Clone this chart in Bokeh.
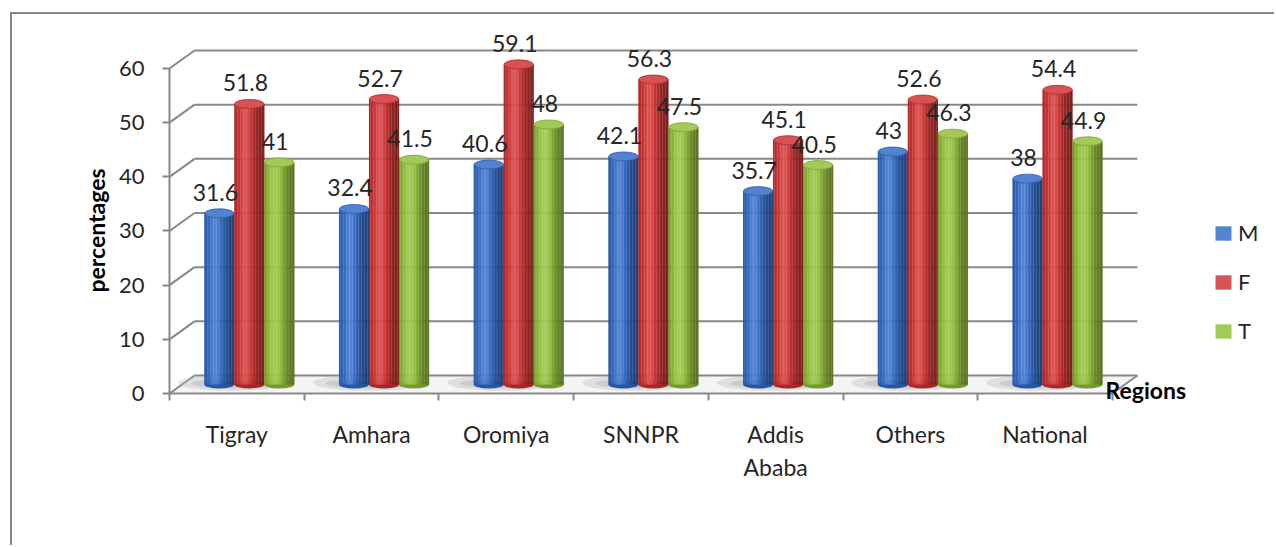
import numpy as np
from bokeh.plotting import figure
from bokeh.models import (Range1d, FixedTicker, Legend, LegendItem, Label)
from bokeh.core.properties import value
from bokeh.embed import file_html
from bokeh.resources import INLINE

# ---------------- data ----------------
regions = ["Tigray", "Amhara", "Oromiya", "SNNPR", "Addis\nAbaba", "Others", "National"]
series_names = ["M", "F", "T"]
male = [31.6, 32.4, 40.6, 42.1, 35.7, 43, 38]
female = [51.8, 52.7, 59.1, 56.3, 45.1, 52.6, 54.4]
total = [41, 41.5, 48, 47.5, 40.5, 46.3, 44.9]
y_ticks = [0, 10, 20, 30, 40, 50, 60]
base_colors = [(52, 108, 200), (208, 52, 52), (146, 192, 58)]

# ---------------- layout (page pixels) ----------------
OX, OY = 12, 14                     # canvas origin on the page
FIG_W, FIG_H = 1264, 533
ZERO_X, ZERO_Y = 169, 393           # page position of the front-plane origin
PX_X = 134.7                        # px per category
PX_Y = 5.417                        # px per percentage unit
DEPTH_DX, DEPTH_DY = 25.0, 18.0     # 3-D depth offset (px)
BAR_PX = 30.0
FONT = "Lato"

n = len(regions)
dxu = DEPTH_DX / PX_X
dyu = DEPTH_DY / PX_Y


def px_to_x(px):
    return (px - ZERO_X) / PX_X


def py_to_y(py):
    return (ZERO_Y - py) / PX_Y


# the frame covers the whole canvas; axes are placed with fixed_location
p = figure(width=FIG_W, height=FIG_H, output_backend="svg", toolbar_location=None,
           x_range=Range1d(px_to_x(OX), px_to_x(OX + FIG_W)),
           y_range=Range1d(py_to_y(OY + FIG_H), py_to_y(OY)),
           min_border_left=0, min_border_right=0, min_border_top=0, min_border_bottom=0,
           styles={"margin-left": "10px", "margin-top": "12px",
                   "border-left": "2px solid #878787", "border-top": "2px solid #878787"})
p.outline_line_color = None
p.xgrid.visible = False
p.ygrid.visible = False
p.background_fill_color = "white"
p.border_fill_color = "white"

GRID = "#888888"

# floor
p.patch([0, n, n + dxu, dxu], [0, 0, dyu, dyu], fill_color="#f4f4f4", line_color=None)

# back wall grid lines and left wall diagonals
p.segment(x0=[dxu] * len(y_ticks), x1=[n + dxu] * len(y_ticks),
          y0=[v + dyu for v in y_ticks], y1=[v + dyu for v in y_ticks],
          line_color=GRID, line_width=2)
p.segment(x0=[0] * len(y_ticks), x1=[dxu] * len(y_ticks),
          y0=y_ticks, y1=[v + dyu for v in y_ticks], line_color=GRID, line_width=2)
p.segment(x0=[n], y0=[0], x1=[n + dxu], y1=[dyu], line_color=GRID, line_width=2)


def shade(rgb, k):
    r = np.array(rgb, dtype=float)
    if k <= 1:
        r = r * k
    else:
        r = r + (255 - r) * min(1.0, (k - 1) * 1.3)
    r = np.clip(r, 0, 255).astype(int)
    return "#%02x%02x%02x" % tuple(r)


def profile(t):
    return 0.72 + 0.45 * np.exp(-((t - 0.38) / 0.3) ** 2) - 0.12 * t


bw = BAR_PX / PX_X
mid_dx, mid_dy = 0.5 * dxu, 0.5 * dyu
series = [male, female, total]

# floor shadows
p.ellipse(x=[i + 0.5 + mid_dx - 0.12 for i in range(n)], y=[mid_dy + 0.3] * n,
          width=110 / PX_X, height=16 / PX_Y, fill_color="#b8b8b8", fill_alpha=0.35, line_color=None)
p.ellipse(x=[i + 0.5 + mid_dx - 0.1 for i in range(n)], y=[mid_dy + 0.2] * n,
          width=90 / PX_X, height=10 / PX_Y, fill_color="#a8a8a8", fill_alpha=0.35, line_color=None)

NSTRIP = 20
HILITE = 7   # strip used as legend swatch
strip_x, strip_top, strip_col = [], [], []
cap_x, cap_y, cap_col, cap_line = [], [], [], []
bot_x, bot_col = [], []
lab_x, lab_y, lab_t = [], [], []
legend_idx = []
for s, vals in enumerate(series):
    off = (s - 1) * bw
    for i, v in enumerate(vals):
        cx = i + 0.5 + off + mid_dx
        left = cx - bw / 2
        for k in range(NSTRIP):
            if i == 0 and k == HILITE:
                legend_idx.append(len(strip_x))
            t = (k + 0.5) / NSTRIP
            strip_x.append(left + t * bw)
            strip_top.append(v + mid_dy)
            strip_col.append(shade(base_colors[s], profile(t)))
        bot_x.append(cx)
        bot_col.append(shade(base_colors[s], 0.8))
        cap_x.append(cx)
        cap_y.append(v + mid_dy)
        cap_col.append(shade(base_colors[s], 1.12))
        cap_line.append(shade(base_colors[s], 0.85))
        lab_x.append(cx)
        lab_y.append(v + mid_dy)
        lab_t.append(f"{v:g}")

p.ellipse(x=bot_x, y=[mid_dy] * len(bot_x), width=bw, height=8 / PX_Y,
          fill_color=bot_col, line_color=None)
strips = p.vbar(x=strip_x, top=strip_top, bottom=mid_dy, width=bw / NSTRIP * 1.15,
                fill_color=strip_col, line_color=None)
p.ellipse(x=cap_x, y=cap_y, width=bw * 0.98, height=9 / PX_Y,
          fill_color=cap_col, line_color=cap_line, line_width=0.8)

p.text(x=lab_x, y=lab_y, text=lab_t, x_offset=-4, y_offset=-21,
       text_align="center", text_baseline="middle",
       text_font=value(FONT), text_font_size="23px", text_color="#262626")

# legend (swatches taken from the bar renderer)
items = [LegendItem(label=name, renderers=[strips], index=legend_idx[s])
         for s, name in enumerate(series_names)]
legend = Legend(items=items, location=(1213 - OX, OY + FIG_H - 344),
                glyph_width=20, glyph_height=18, label_height=26, spacing=22,
                padding=0, margin=0, border_line_color=None, background_fill_alpha=0,
                label_text_font=FONT, label_text_font_size="22px", label_standoff=5,
                label_text_color="#262626")
p.add_layout(legend)

# axes
p.yaxis.fixed_location = 0
p.yaxis.ticker = FixedTicker(ticks=y_ticks)
p.yaxis.bounds = (0, 60)
p.yaxis.axis_line_color = GRID
p.yaxis.axis_line_width = 2
p.yaxis.major_tick_line_color = GRID
p.yaxis.major_tick_line_width = 2
p.yaxis.major_tick_out = 7
p.yaxis.major_tick_in = 0
p.yaxis.minor_tick_line_color = None
p.yaxis.major_label_standoff = 18
p.yaxis.major_label_text_font = FONT
p.yaxis.major_label_text_font_size = "22px"
p.yaxis.major_label_text_color = "#262626"

centers = [i + 0.5 for i in range(n)]
p.xaxis.fixed_location = 0
p.xaxis.ticker = FixedTicker(ticks=centers, minor_ticks=list(range(n + 1)))
p.xaxis.major_label_overrides = {c: r for c, r in zip(centers, regions)}
p.xaxis.bounds = (0, n)
p.xaxis.axis_line_color = GRID
p.xaxis.axis_line_width = 2
p.xaxis.major_tick_in = 0
p.xaxis.major_tick_out = 0
p.xaxis.major_tick_line_color = None
p.xaxis.minor_tick_in = 0
p.xaxis.minor_tick_out = 7
p.xaxis.minor_tick_line_color = GRID
p.xaxis.minor_tick_line_width = 2
p.xaxis.major_label_standoff = 19
p.xaxis.major_label_text_font = FONT
p.xaxis.major_label_text_font_size = "23px"
p.xaxis.major_label_text_color = "#262626"

# axis titles
p.add_layout(Label(x=px_to_x(95), y=py_to_y(230), text="percentages", angle=np.pi / 2,
                   text_align="center", text_baseline="middle", text_font=FONT,
                   text_font_size="23px", text_font_style="bold", text_color="black"))
p.add_layout(Label(x=px_to_x(1105), y=py_to_y(389), text="Regions",
                   text_baseline="middle", text_font=FONT, text_font_size="23px",
                   text_font_style="bold", text_color="black"))

open("out.html", "w").write(file_html(p, INLINE))
